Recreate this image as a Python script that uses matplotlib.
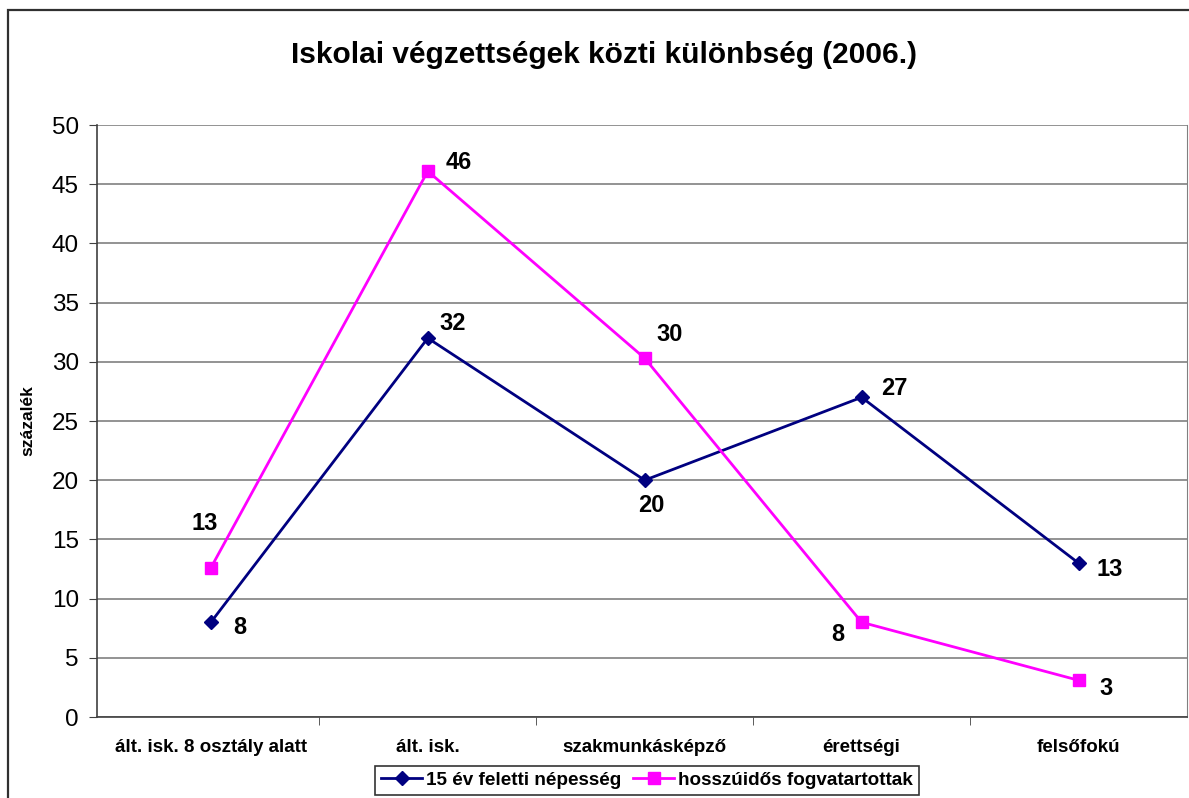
import matplotlib.pyplot as plt
from matplotlib.patches import Rectangle

plt.rcParams['font.family'] = ['Liberation Sans', 'DejaVu Sans']

categories = ['ált. isk. 8 osztály alatt', 'ált. isk.', 'szakmunkásképző', 'érettségi', 'felsőfokú']
nepesseg = [8, 32, 20, 27, 13]
fogvatartottak = [12.6, 46.1, 30.3, 8.0, 3.1]
series_names = ['15 év feletti népesség', 'hosszúidős fogvatartottak']

# label offsets in pixels (dx, dy)
off_nep = [(29, -5), (25, 15), (7, -25), (33, 9), (31, -6)]
off_fog = [(-6, 44), (31, 9), (25, 24), (-24, -12), (28, -8)]

fig = plt.figure(figsize=(11.89, 7.98), dpi=100)
ax = fig.add_axes([97 / 1189, 1 - 717 / 798, 1090 / 1189, (717 - 125) / 798])

# outer chart border
fig.patches.append(Rectangle((8 / 1189, -0.1), 1.2, 1 - 10 / 798 + 0.1, transform=fig.transFigure,
                             fill=False, edgecolor='#303030', linewidth=1.6))

x = list(range(len(categories)))
ax.plot(x, nepesseg, color='#000080', marker='D', markersize=7, linewidth=2, label=series_names[0], zorder=3)
ax.plot(x, fogvatartottak, color='#FF00FF', marker='s', markersize=9, linewidth=2, label=series_names[1], zorder=3)

for i in x:
    ax.annotate(f'{round(nepesseg[i])}', (i, nepesseg[i]), xytext=off_nep[i], textcoords='offset pixels',
                ha='center', va='center', fontsize=17, fontweight='bold')
    ax.annotate(f'{round(fogvatartottak[i])}', (i, fogvatartottak[i]), xytext=off_fog[i], textcoords='offset pixels',
                ha='center', va='center', fontsize=17, fontweight='bold')

ax.set_xlim(-0.525, len(categories) - 0.5)
ax.set_ylim(0, 50)
ax.set_yticks(range(0, 51, 5))
ax.yaxis.grid(True, color='#808080', linewidth=1.2)
ax.set_axisbelow(True)

ax.set_xticks(x)
ax.set_xticklabels(categories, fontsize=13.5, fontweight='bold')
ax.set_xticks([i + 0.5 for i in range(len(categories) - 1)], minor=True)
ax.tick_params(axis='x', which='major', length=0, pad=16)
ax.tick_params(axis='x', which='minor', length=6, direction='out', color='#404040')
ax.tick_params(axis='y', length=6, direction='out', labelsize=17.5, color='#404040', pad=7)

for side in ['left', 'bottom']:
    ax.spines[side].set_color('#404040')
    ax.spines[side].set_linewidth(1.2)
ax.spines['right'].set_color('#808080')
ax.spines['top'].set_visible(False)

ax.set_ylabel('százalék', fontsize=12.5, fontweight='bold', labelpad=12)

fig.text(604 / 1189, 1 - 55 / 798, 'Iskolai végzettségek közti különbség (2006.)',
         ha='center', va='center', fontsize=21.5, fontweight='bold')

leg = fig.legend(loc='upper center', bbox_to_anchor=(647 / 1189, 1 - 766 / 798), ncol=2,
                 frameon=True, fancybox=False, edgecolor='black',
                 prop={'weight': 'bold', 'size': 13.6}, handlelength=2.2, handletextpad=0.2,
                 columnspacing=0.6, borderpad=0.3, borderaxespad=0)
leg.get_frame().set_linewidth(1.2)

fig.savefig('out.png', dpi=100)
